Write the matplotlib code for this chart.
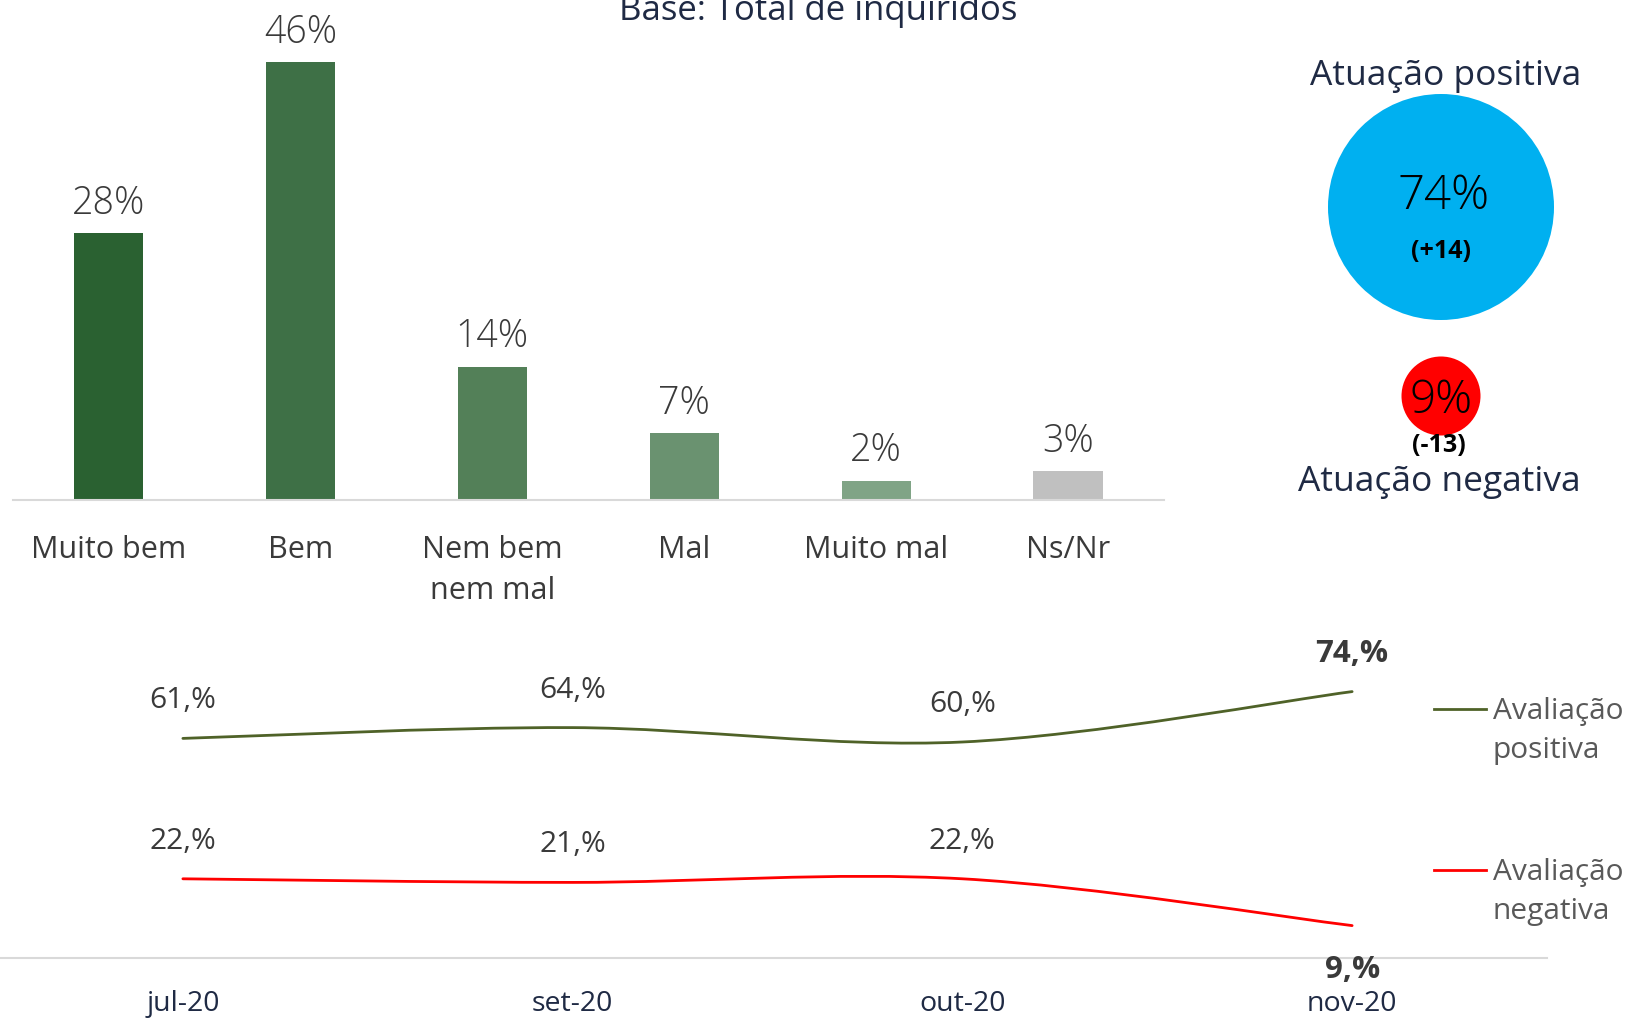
import matplotlib
matplotlib.use("Agg")
import matplotlib.pyplot as plt
from matplotlib.path import Path
from matplotlib.patches import PathPatch, Circle
import numpy as np

plt.rcParams['font.family'] = ['Open Sans', 'Noto Sans', 'DejaVu Sans']

# bar chart data
categories = ['Muito bem', 'Bem', 'Nem bem\nnem mal', 'Mal', 'Muito mal', 'Ns/Nr']
shares = [28, 46, 14, 7, 2, 3]
bar_colors = ['#2a6131', '#3e7046', '#538058', '#6a9270', '#80a486', '#c0c0c0']

# evolution data
months = ['jul-20', 'set-20', 'out-20', 'nov-20']
positive = [61, 64, 60, 74]
negative = [22, 21, 22, 9]

# summary circles
pos_total, pos_delta = 74, '(+14)'
neg_total, neg_delta = 9, '(-13)'

W, H = 1629, 1018
fig = plt.figure(figsize=(W / 100, H / 100), dpi=100)

navy = '#1f2a44'
grey_txt = '#3a3a3a'


def px_axes(x0, y0, x1, y1):
    # pixel box (top-left origin) -> figure axes
    return fig.add_axes([x0 / W, 1 - y1 / H, (x1 - x0) / W, (y1 - y0) / H])


fig.text(818 / W, 1 - 11 / H, 'Base: Total de inquiridos', ha='center', va='center',
         fontsize=25, color=navy)

# ---- bars ----
ax = px_axes(12.5, 24, 1164, 500)
x = np.arange(len(categories))
ax.bar(x, shares, width=0.36, color=bar_colors)
for xi, v in zip(x, shares):
    ax.text(xi, v + 1.1, f'{v}%', ha='center', va='bottom', fontsize=27,
            color=grey_txt, fontweight='light')
ax.set_xlim(-0.5, len(categories) - 0.5)
ax.set_ylim(0, 50)
for s in ['top', 'right', 'left']:
    ax.spines[s].set_visible(False)
ax.spines['bottom'].set_color('#d9d9d9')
ax.spines['bottom'].set_linewidth(1.5)
ax.set_yticks([])
ax.set_xticks(x)
ax.set_xticklabels(categories, fontsize=22, color=grey_txt, linespacing=1.5, va='top')
ax.tick_params(axis='x', length=0, pad=25)
ax.patch.set_alpha(0)

# ---- circles ----
cax = px_axes(0, 0, W, H)
cax.set_xlim(0, W)
cax.set_ylim(H, 0)
cax.axis('off')
cax.patch.set_alpha(0)
cax.add_patch(Circle((1441, 207), 113, color='#00b0f0', lw=0))
cax.add_patch(Circle((1441, 396), 39.5, color='#ff0000', lw=0))
cax.text(1446, 76, 'Atuação positiva', ha='center', va='center', fontsize=25.5, color=navy)
cax.text(1444, 197, f'{pos_total}%', ha='center', va='center', fontsize=34, color='black',
         fontweight='light')
cax.text(1441, 251, pos_delta, ha='center', va='center', fontsize=18, color='black',
         fontweight='bold')
cax.text(1441, 401, f'{neg_total}%', ha='center', va='center', fontsize=33, color='black',
         fontweight='light')
cax.text(1439, 446, neg_delta, ha='center', va='center', fontsize=18, color='black',
         fontweight='bold')
cax.text(1439, 482, 'Atuação negativa', ha='center', va='center', fontsize=25.5, color=navy)

# ---- lines ----
lax = px_axes(-12, 670, 1547, 958)
lax.set_xlim(-0.5, len(months) - 0.5)
lax.set_ylim(0, 80)
lax.patch.set_alpha(0)


def smooth_path(xs, ys):
    pts = np.column_stack([xs, ys]).astype(float)
    ext = np.vstack([pts[0], pts, pts[-1]])
    verts = [pts[0]]
    codes = [Path.MOVETO]
    for i in range(len(pts) - 1):
        p0, p1, p2, p3 = ext[i], ext[i + 1], ext[i + 2], ext[i + 3]
        verts += [p1 + (p2 - p0) / 6, p2 - (p3 - p1) / 6, p2]
        codes += [Path.CURVE4] * 3
    return Path(verts, codes)


xm = np.arange(len(months))
for vals, col in [(positive, '#4f6228'), (negative, '#ff0000')]:
    lax.add_patch(PathPatch(smooth_path(xm, vals), fill=False, edgecolor=col, lw=2,
                            capstyle='round'))

for i, (p, n) in enumerate(zip(positive, negative)):
    last = i == len(months) - 1
    w = 'bold' if last else 'normal'
    fs = 22.5 if last else 21.5
    lax.annotate(f'{p},%', (i, p), xytext=(0, 27), textcoords='offset points', ha='center',
                 va='center', fontsize=fs, color=grey_txt, fontweight=w)
    off = -32 if last else 27
    lax.annotate(f'{n},%', (i, n), xytext=(0, off), textcoords='offset points', ha='center',
                 va='center', fontsize=fs, color=grey_txt, fontweight=w)

for s in ['top', 'right', 'left']:
    lax.spines[s].set_visible(False)
lax.spines['bottom'].set_color('#d9d9d9')
lax.spines['bottom'].set_linewidth(1.5)
lax.set_yticks([])
lax.set_xticks(xm)
lax.set_xticklabels(months, fontsize=20.5, color=navy)
lax.tick_params(axis='x', length=0, pad=23)

# legend drawn by hand next to the lines
cax.plot([1434, 1486], [709, 709], color='#4f6228', lw=2)
cax.text(1493, 731, 'Avaliação\npositiva', ha='left', va='center', fontsize=21.5,
         color='#595959', linespacing=1.45)
cax.plot([1434, 1486], [870, 870], color='#ff0000', lw=2)
cax.text(1493, 892, 'Avaliação\nnegativa', ha='left', va='center', fontsize=21.5,
         color='#595959', linespacing=1.45)

fig.savefig('out.png', dpi=100)
